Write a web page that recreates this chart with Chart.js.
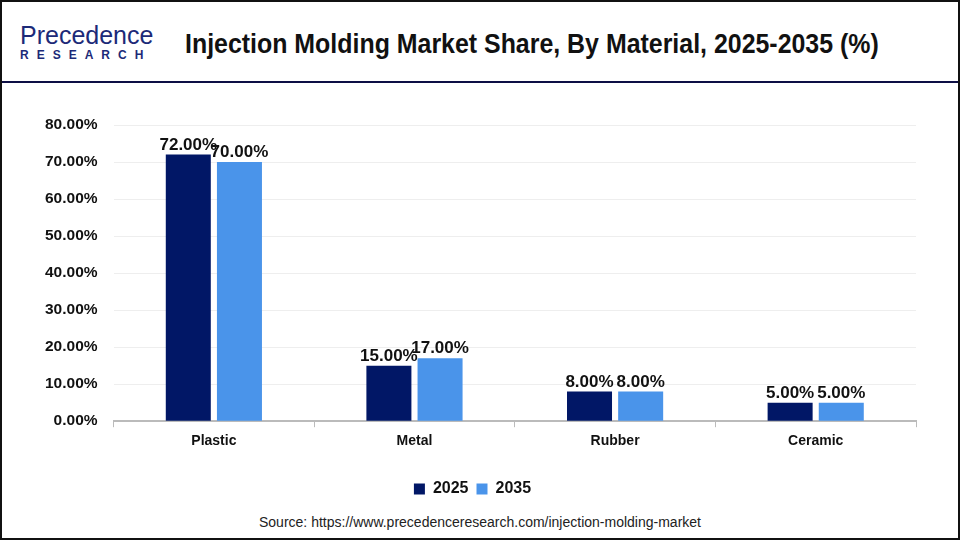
<!DOCTYPE html>
<html>
<head>
<meta charset="utf-8">
<script src="https://cdn.jsdelivr.net/npm/chart.js@4.4.1/dist/chart.umd.min.js"></script>
<style>
  html, body { margin: 0; padding: 0; background: #fff; }
  #frame { position: relative; width: 960px; height: 540px; box-sizing: border-box; border: 2px solid #111; overflow: hidden; font-family: "Liberation Sans", Arial, sans-serif; }
  #header-line { position: absolute; left: 0; top: 79px; width: 960px; height: 2px; background: #0d0f45; }
  #logo { position: absolute; left: 18px; top: 20px; color: #1c2a78; }
  #logo .top { font-size: 25px; line-height: 26px; }
  #logo .bottom { font-size: 12px; letter-spacing: 8px; font-weight: bold; }
  #title { position: absolute; left: 183px; top: 27px; font-weight: bold; font-size: 27px; color: #111; white-space: nowrap; transform-origin: 0 0; }
  #chart-box { position: absolute; left: 0; top: 90px; width: 956px; height: 415px; }
  #source { position: absolute; left: 0; width: 956px; top: 512px; text-align: center; font-size: 14px; color: #222; }
</style>
</head>
<body>
<div id="frame">
  <div id="logo"><div class="top">Precedence</div><div class="bottom">RESEARCH</div></div>
  <div id="title">Injection Molding Market Share, By Material, 2025-2035 (%)</div>
  <div id="header-line"></div>
  <div id="chart-box"><canvas id="materialChart"></canvas></div>
  <div id="source">Source: https://www.precedenceresearch.com/injection-molding-market</div>
</div>
<script>
const materials = ['Plastic', 'Metal', 'Rubber', 'Ceramic'];
const share2025 = [72, 15, 8, 5];
const share2035 = [70, 17, 8, 5];
const yTicks = [0, 10, 20, 30, 40, 50, 60, 70, 80];

// squeeze the title to the width it has in the picture
const title = document.getElementById('title');
title.style.transform = 'scaleX(' + (694 / title.offsetWidth) + ')';

// value labels above bars
const barLabels = {
    id: 'barLabels',
    afterDatasetsDraw(chart) {
        const c = chart.ctx;
        c.save();
        c.font = 'bold 17px "Liberation Sans", Arial, sans-serif';
        c.fillStyle = '#111';
        c.textAlign = 'center';
        c.textBaseline = 'bottom';
        chart.data.datasets.forEach((ds, i) => {
            chart.getDatasetMeta(i).data.forEach((bar, j) => {
                c.fillText(ds.data[j].toFixed(2) + '%', bar.x, bar.y - 1);
            });
        });
        c.restore();
    }
};

const ctx = document.getElementById('materialChart').getContext('2d');
const materialChart = new Chart(ctx, {
    type: 'bar',
    data: {
        labels: materials,
        datasets: [{
            label: '2025',
            data: share2025,
            backgroundColor: '#011766',
            categoryPercentage: 0.51,
            barPercentage: 0.88
        }, {
            label: '2035',
            data: share2035,
            backgroundColor: '#4a94ea',
            categoryPercentage: 0.51,
            barPercentage: 0.88
        }]
    },
    options: {
        responsive: true,
        maintainAspectRatio: false,
        animation: false,
        layout: { padding: { left: 27, right: 42, top: 33, bottom: 0 } },
        plugins: {
            legend: {
                position: 'bottom',
                labels: {
                    boxWidth: 11,
                    boxHeight: 11,
                    padding: 8,
                    color: '#111',
                    font: { size: 16, weight: 'bold' }
                }
            },
            tooltip: { enabled: false }
        },
        scales: {
            x: {
                afterFit: axis => { axis.height += 17; },
                grid: { display: true, drawOnChartArea: false, color: '#bbb', tickLength: 6, offset: true },
                border: { color: '#bbb', width: 2 },
                ticks: {
                    color: '#111',
                    padding: 6,
                    font: { size: 14, weight: 'bold' }
                }
            },
            y: {
                min: 0,
                max: 80,
                afterBuildTicks: axis => { axis.ticks = yTicks.map(v => ({ value: v })); },
                grid: { color: '#eee', drawTicks: false },
                border: { display: false },
                ticks: {
                    color: '#111',
                    padding: 16,
                    font: { size: 15.5, weight: 'bold' },
                    callback: v => v.toFixed(2) + '%'
                }
            }
        }
    },
    plugins: [barLabels]
});
</script>
</body>
</html>
